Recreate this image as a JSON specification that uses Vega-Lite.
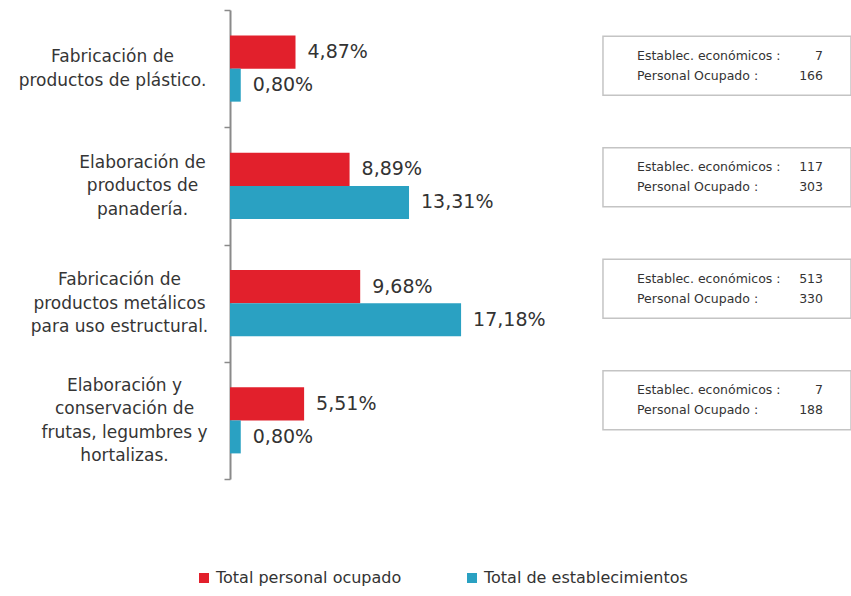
{
  "$schema": "https://vega.github.io/schema/vega-lite/v6.json",
  "width": 621,
  "height": 469,
  "autosize": {"type": "none"},
  "padding": {"left": 230, "top": 10, "right": 0, "bottom": 117},
  "background": "white",
  "config": {
    "view": {"stroke": null},
    "font": "DejaVu Sans",
    "locale": {"number": {"decimal": ",", "thousands": ".", "grouping": [3], "currency": ["", ""]}}
  },
  "datasets": {
    "bars": [
      {"categoria": "Fabricación de|productos de plástico.", "serie": "Total personal ocupado", "valor": 0.0487},
      {"categoria": "Fabricación de|productos de plástico.", "serie": "Total de establecimientos", "valor": 0.0080},
      {"categoria": "Elaboración de|productos de|panadería.", "serie": "Total personal ocupado", "valor": 0.0889},
      {"categoria": "Elaboración de|productos de|panadería.", "serie": "Total de establecimientos", "valor": 0.1331},
      {"categoria": "Fabricación de|productos metálicos|para uso estructural.", "serie": "Total personal ocupado", "valor": 0.0968},
      {"categoria": "Fabricación de|productos metálicos|para uso estructural.", "serie": "Total de establecimientos", "valor": 0.1718},
      {"categoria": "Elaboración y|conservación de|frutas, legumbres y|hortalizas.", "serie": "Total personal ocupado", "valor": 0.0551},
      {"categoria": "Elaboración y|conservación de|frutas, legumbres y|hortalizas.", "serie": "Total de establecimientos", "valor": 0.0080}
    ],
    "boxes": [
      {"categoria": "Fabricación de|productos de plástico.", "establecimientos": 7, "personal": 166},
      {"categoria": "Elaboración de|productos de|panadería.", "establecimientos": 117, "personal": 303},
      {"categoria": "Fabricación de|productos metálicos|para uso estructural.", "establecimientos": 513, "personal": 330},
      {"categoria": "Elaboración y|conservación de|frutas, legumbres y|hortalizas.", "establecimientos": 7, "personal": 188}
    ]
  },
  "layer": [
    {
      "data": {"name": "bars"},
      "encoding": {
        "y": {
          "field": "categoria", "type": "nominal", "sort": null,
          "scale": {"paddingInner": 0, "paddingOuter": 0},
          "axis": {
            "title": null,
            "labelExpr": "split(datum.label, '|')",
            "labelAlign": "center",
            "labelBaseline": "middle",
            "labelPadding": {
              "condition": [
                {"test": "datum.value == 'Fabricación de|productos de plástico.'", "value": 112},
                {"test": "datum.value == 'Elaboración de|productos de|panadería.'", "value": 82},
                {"test": "datum.value == 'Fabricación de|productos metálicos|para uso estructural.'", "value": 105}
              ],
              "value": 100
            },
            "labelFontSize": 17,
            "labelColor": "#353535",
            "labelLineHeight": 23.5,
            "labelLimit": 0,
            "labelOffset": {
              "condition": [
                {"test": "length(split(datum.label, '|')) == 2", "value": -11.75},
                {"test": "length(split(datum.label, '|')) == 3", "value": -23.5}
              ],
              "value": -35.25
            },
            "domainColor": "#8a8a8a",
            "domainWidth": 2,
            "tickColor": "#8a8a8a",
            "tickSize": 6,
            "tickWidth": 1.5,
            "tickBand": "extent",
            "grid": false
          }
        },
        "yOffset": {
          "field": "serie", "type": "nominal",
          "sort": ["Total personal ocupado", "Total de establecimientos"],
          "scale": {"paddingInner": 0, "paddingOuter": 0.775}
        },
        "x": {
          "field": "valor", "type": "quantitative",
          "scale": {"domain": [0, 0.4617], "nice": false},
          "axis": null
        }
      },
      "layer": [
        {
          "mark": {"type": "bar"},
          "encoding": {
            "color": {
              "field": "serie", "type": "nominal",
              "sort": ["Total personal ocupado", "Total de establecimientos"],
              "scale": {"domain": ["Total personal ocupado", "Total de establecimientos"], "range": ["#e2202c", "#2aa1c2"]},
              "legend": {
                "orient": "none",
                "legendX": -34,
                "legendY": 560,
                "direction": "horizontal",
                "title": null,
                "symbolType": "square",
                "symbolSize": 100,
                "symbolStrokeWidth": 0,
                "labelFontSize": 16,
                "labelColor": "#333333",
                "labelOffset": 4,
                "labelLimit": 0,
                "columnPadding": 62,
                "padding": 0
              }
            }
          }
        },
        {
          "mark": {"type": "text", "align": "left", "baseline": "middle", "dx": 12, "fontSize": 19, "color": "#333333"},
          "encoding": {
            "text": {"field": "valor", "type": "quantitative", "format": ".2%"}
          }
        }
      ]
    },
    {
      "data": {"name": "boxes"},
      "encoding": {
        "y": {
          "field": "categoria", "type": "nominal", "sort": null,
          "scale": {"range": [0, 446], "paddingInner": 0, "paddingOuter": 0},
          "axis": null
        }
      },
      "layer": [
        {
          "mark": {"type": "bar", "height": 59, "fill": "white", "stroke": "#c4c4c4", "strokeWidth": 1.5},
          "encoding": {
            "x": {"datum": 0.2773, "type": "quantitative", "scale": {"domain": [0, 0.4617], "nice": false}, "axis": null},
            "x2": {"datum": 0.4617}
          }
        },
        {
          "mark": {"type": "text", "align": "left", "baseline": "middle", "dy": -10, "fontSize": 12.5, "color": "#333333", "text": "Establec. económicos :"},
          "encoding": {
            "x": {"datum": 0.3026, "type": "quantitative"}
          }
        },
        {
          "mark": {"type": "text", "align": "left", "baseline": "middle", "dy": 10, "fontSize": 12.5, "color": "#333333", "text": "Personal Ocupado :"},
          "encoding": {
            "x": {"datum": 0.3026, "type": "quantitative"}
          }
        },
        {
          "mark": {"type": "text", "align": "right", "baseline": "middle", "dy": -10, "fontSize": 12.5, "color": "#333333"},
          "encoding": {
            "x": {"datum": 0.4409, "type": "quantitative"},
            "text": {"field": "establecimientos", "type": "quantitative"}
          }
        },
        {
          "mark": {"type": "text", "align": "right", "baseline": "middle", "dy": 10, "fontSize": 12.5, "color": "#333333"},
          "encoding": {
            "x": {"datum": 0.4409, "type": "quantitative"},
            "text": {"field": "personal", "type": "quantitative"}
          }
        }
      ]
    }
  ],
  "resolve": {"scale": {"y": "independent"}}
}
